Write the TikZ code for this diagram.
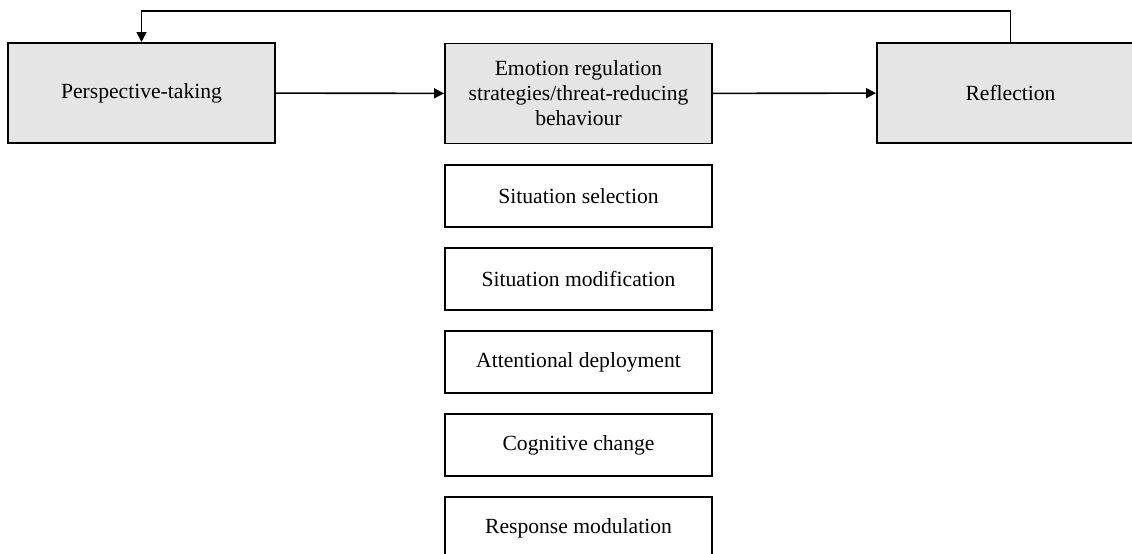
\documentclass[tikz,border=0pt]{standalone}
\usepackage{fontspec}
\setmainfont{Liberation Serif}
\usetikzlibrary{arrows.meta, positioning}

\tikzset{
  mainbox/.style={draw, line width=1.1pt, fill=gray!20, minimum width=5.34cm, minimum height=2cm, align=center, font=\fontsize{12.3}{14.2}\selectfont},
  stratbox/.style={draw, line width=1.1pt, fill=white, minimum width=5.34cm, minimum height=1.24cm, align=center, font=\fontsize{12.3}{14.2}\selectfont},
  link/.style={line width=0.9pt, -{Triangle[length=0.2cm, width=0.2cm]}}
}

\begin{document}
\begin{tikzpicture}
  \useasboundingbox (0,0) rectangle (22.64,-11.06);
  % top row
  \node[mainbox] (persp) at (2.83,-1.86) {Perspective-taking};
  \node[mainbox] (emoreg) at (11.57,-1.87) {Emotion regulation\\strategies/threat-reducing\\behaviour};
  \node[mainbox] (refl) at (20.21,-1.86) {Reflection};
  % strategies
  \node[stratbox] (selection) at (11.57,-3.92) {Situation selection};
  \node[stratbox] (modification) at (11.57,-5.58) {Situation modification};
  \node[stratbox] (attention) at (11.57,-7.24) {Attentional deployment};
  \node[stratbox] (cognitive) at (11.57,-8.90) {Cognitive change};
  \node[stratbox] (response) at (11.57,-10.56) {Response modulation};
  % arrows
  \draw[link] (persp) -- (emoreg);
  \draw[link] (emoreg) -- (refl);
  \coordinate (loop) at (2.83,-0.22);
  \draw[link] (refl.north) |- (loop) -- (persp.north);
\end{tikzpicture}
\end{document}
